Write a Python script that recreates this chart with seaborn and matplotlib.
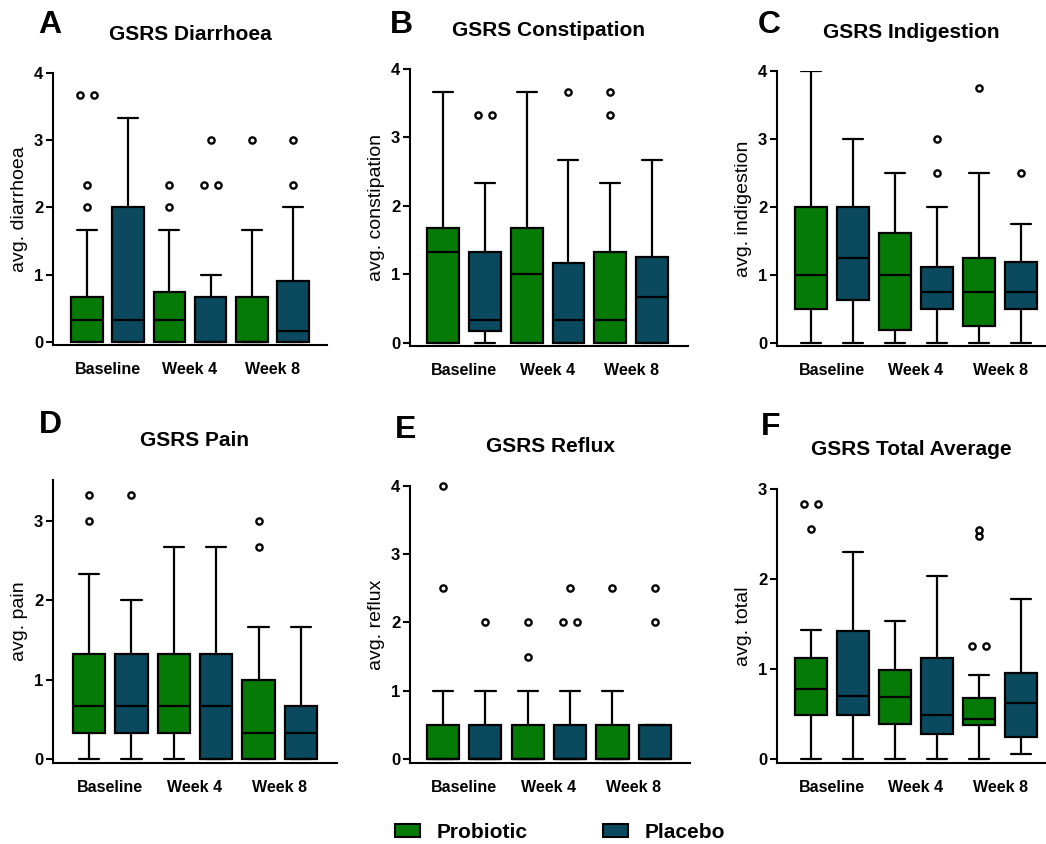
import matplotlib
matplotlib.use("Agg")
import matplotlib.pyplot as plt
import matplotlib.transforms as mtransforms
from matplotlib.patches import Patch
import seaborn as sns

# ---- data -------------------------------------------------------------
timepoints = ["Baseline", "Week 4", "Week 8"]
arms = ["Probiotic", "Placebo"]
arm_colors = ["#067a06", "#0b4a5e"]

# box order: Probiotic/Placebo at Baseline, Week 4, Week 8
# each row: lower whisker, Q1, median, Q3, upper whisker
diarrhoea_box = [
    [0, 0, 0.33, 0.67, 1.67],
    [0, 0, 0.33, 2.0, 3.33],
    [0, 0, 0.33, 0.75, 1.67],
    [0, 0, 0, 0.67, 1.0],
    [0, 0, 0, 0.67, 1.67],
    [0, 0, 0.17, 0.9, 2.0],
]
diarrhoea_out = [[2.0, 2.33, 3.67, 3.67], [], [2.0, 2.33],
                 [2.33, 2.33, 3.0], [3.0], [2.33, 3.0]]

constipation_box = [
    [0, 0, 1.33, 1.67, 3.67],
    [0, 0.17, 0.33, 1.33, 2.33],
    [0, 0, 1.0, 1.67, 3.67],
    [0, 0, 0.33, 1.17, 2.67],
    [0, 0, 0.33, 1.33, 2.33],
    [0, 0, 0.67, 1.25, 2.67],
]
constipation_out = [[], [3.33, 3.33], [], [3.67], [3.33, 3.67], []]

indigestion_box = [
    [0, 0.5, 1.0, 2.0, 4.0],
    [0, 0.63, 1.25, 2.0, 3.0],
    [0, 0.19, 1.0, 1.62, 2.5],
    [0, 0.5, 0.75, 1.12, 2.0],
    [0, 0.25, 0.75, 1.25, 2.5],
    [0, 0.5, 0.75, 1.19, 1.75],
]
indigestion_out = [[], [], [], [2.5, 3.0], [3.75], [2.5]]

pain_box = [
    [0, 0.33, 0.67, 1.33, 2.33],
    [0, 0.33, 0.67, 1.33, 2.0],
    [0, 0.33, 0.67, 1.33, 2.67],
    [0, 0, 0.67, 1.33, 2.67],
    [0, 0, 0.33, 1.0, 1.67],
    [0, 0, 0.33, 0.67, 1.67],
]
pain_out = [[3.0, 3.33], [3.33], [], [], [2.67, 3.0], []]

reflux_box = [
    [0, 0, 0, 0.5, 1.0],
    [0, 0, 0, 0.5, 1.0],
    [0, 0, 0, 0.5, 1.0],
    [0, 0, 0, 0.5, 1.0],
    [0, 0, 0, 0.5, 1.0],
    [0, 0, 0, 0.5, 0.5],
]
reflux_out = [[2.5, 4.0], [2.0], [1.5, 2.0], [2.0, 2.0, 2.5], [2.5], [2.0, 2.5]]

total_box = [
    [0, 0.48, 0.77, 1.12, 1.43],
    [0, 0.48, 0.70, 1.42, 2.30],
    [0, 0.38, 0.68, 0.98, 1.53],
    [0, 0.27, 0.48, 1.12, 2.03],
    [0, 0.37, 0.44, 0.67, 0.93],
    [0.05, 0.24, 0.62, 0.95, 1.77],
]
total_out = [[2.56, 2.83, 2.83], [], [], [], [1.25, 1.25, 2.48, 2.54], []]

panels = [
    ("A", "GSRS Diarrhoea", "avg. diarrhoea", diarrhoea_box, diarrhoea_out, [0, 1, 2, 3, 4]),
    ("B", "GSRS Constipation", "avg. constipation", constipation_box, constipation_out, [0, 1, 2, 3, 4]),
    ("C", "GSRS Indigestion", "avg. indigestion", indigestion_box, indigestion_out, [0, 1, 2, 3, 4]),
    ("D", "GSRS Pain", "avg. pain", pain_box, pain_out, [0, 1, 2, 3]),
    ("E", "GSRS Reflux", "avg. reflux", reflux_box, reflux_out, [0, 1, 2, 3, 4]),
    ("F", "GSRS Total Average", "avg. total", total_box, total_out, [0, 1, 2, 3]),
]

# ---- layout (pixels) --------------------------------------------------
W, H = 1046, 844
# left, right, top, bottom, ylim, xlim, letter position
layout = [
    (53, 327, 73, 345, (-0.045, 4), (-0.82, 5.82), (50, 25)),
    (410, 688, 69, 346, (-0.05, 4), (-0.79, 5.86), (401, 25)),
    (777, 1045, 71, 346, (-0.05, 4), (-0.81, 5.57), (769, 25)),
    (53, 337, 480, 763, (-0.05, 3.52), (-0.85, 5.85), (50, 425)),
    (410, 690, 486, 763, (-0.06, 4), (-0.78, 5.83), (406, 430)),
    (777, 1045, 489, 763, (-0.05, 3), (-0.81, 5.57), (771, 427)),
]

sns.set_theme(style="ticks")
plt.rcParams["font.family"] = ["Liberation Sans", "DejaVu Sans"]
plt.rcParams["axes.linewidth"] = 1.5
for key in ["text.color", "axes.labelcolor", "xtick.color", "ytick.color", "axes.edgecolor"]:
    plt.rcParams[key] = "black"

fig = plt.figure(figsize=(W / 100, H / 100), dpi=100)

positions = list(range(6))
lw = 1.6

for (letter, title, ylabel, box, out, yticks), (l, r, t, b, ylim, xlim, lpos) in zip(panels, layout):
    ax = fig.add_axes([l / W, 1 - b / H, (r - l) / W, (b - t) / H])

    stats = []
    for row in box:
        stats.append(dict(whislo=row[0], q1=row[1], med=row[2], q3=row[3], whishi=row[4], fliers=[]))
    bp = ax.bxp(stats, positions=positions, widths=0.76, capwidths=0.48,
                patch_artist=True, showfliers=False,
                boxprops=dict(linewidth=lw, edgecolor="black"),
                medianprops=dict(linewidth=lw, color="black"),
                whiskerprops=dict(linewidth=lw, color="black"),
                capprops=dict(linewidth=lw, color="black"))
    for i, patch in enumerate(bp["boxes"]):
        patch.set_facecolor(arm_colors[i % 2])
        patch.set_zorder(2)

    # outliers, identical values set side by side
    for i, vals in enumerate(out):
        for v in sorted(set(vals)):
            n = vals.count(v)
            for k in range(n):
                x = positions[i] + (k - (n - 1) / 2) * 0.34
                ax.plot(x, v, "o", ms=4.5, mfc="white", mec="black", mew=1.7,
                        zorder=3, clip_on=False)

    ax.set_xlim(*xlim)
    ax.set_ylim(*ylim)
    ax.set_yticks(yticks)
    ax.set_xticks([0.5, 2.5, 4.5])
    ax.set_xticklabels(timepoints, fontsize=11.5, fontweight="bold")
    ax.tick_params(axis="x", length=0, pad=12)
    ax.tick_params(axis="y", length=5, width=1.5, pad=2, labelsize=12)
    for lab in ax.get_yticklabels():
        lab.set_fontweight("bold")
    ax.set_ylabel(ylabel, fontsize=14, labelpad=4)
    sns.despine(ax=ax)
    ax.spines["left"].set_bounds(ylim[0], yticks[-1] if yticks[-1] >= ylim[1] else ylim[1])

    trans = mtransforms.offset_copy(ax.transAxes, fig=fig, x=0, y=39, units="dots")
    ax.text(0.5, 1, title, transform=trans, ha="center", va="center",
            fontsize=15, fontweight="bold")
    fig.text(lpos[0] / W, 1 - lpos[1] / H, letter, ha="center", va="center",
             fontsize=23, fontweight="bold")

handles = [Patch(facecolor=c, edgecolor="black", linewidth=1.5, label=a)
           for a, c in zip(arms, arm_colors)]
fig.legend(handles=handles, loc="center", bbox_to_anchor=(560 / W, 1 - 832 / H),
           ncol=2, frameon=False, prop=dict(size=15, weight="bold"),
           handlelength=1.2, handleheight=0.6, columnspacing=3.6, handletextpad=0.8)

fig.savefig("out.png", dpi=100)
